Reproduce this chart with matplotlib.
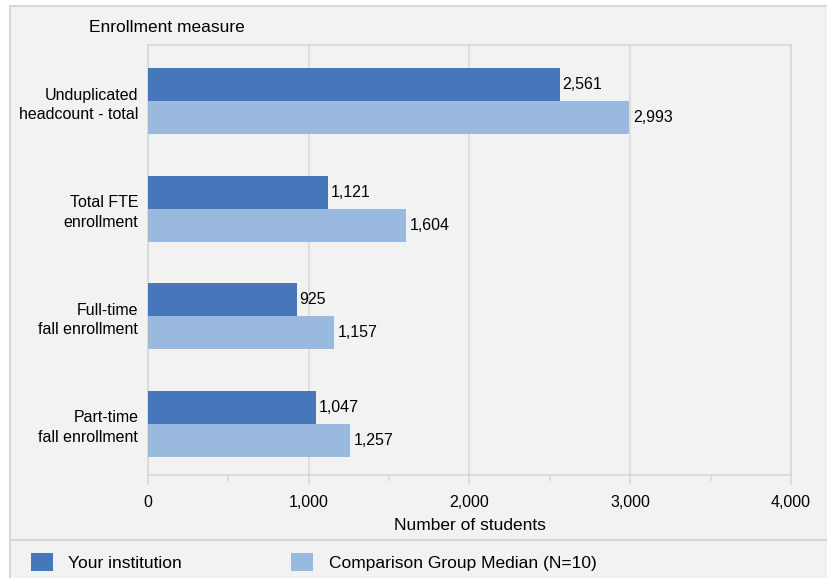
import numpy as np
import matplotlib.pyplot as plt
from matplotlib.patches import Rectangle
from matplotlib.lines import Line2D
from matplotlib.ticker import MultipleLocator, FuncFormatter

plt.rcParams['font.family'] = ['Liberation Sans', 'DejaVu Sans']

# Данни
categories = ['Unduplicated\nheadcount - total', 'Total FTE\nenrollment',
              'Full-time\nfall enrollment', 'Part-time\nfall enrollment']
your_inst = [2561, 1121, 925, 1047]
comparison = [2993, 1604, 1157, 1257]
series_names = ['Your institution', 'Comparison Group Median (N=10)']

dark = '#4677bb'
light = '#99b9de'
panel = '#f2f2f2'
line_c = '#d6d6d6'

W, H = 828, 578
fig = plt.figure(figsize=(W / 100, H / 100), dpi=100, facecolor='white')

# сив фон с рамка
fig.patches.append(Rectangle((10 / W, -0.1), 1.2, 1 - 6 / H + 0.1, transform=fig.transFigure,
                             facecolor=panel, edgecolor=line_c, linewidth=1.5, zorder=-10))
# линия над легендата
fig.add_artist(Line2D([10 / W, 1], [1 - 540 / H, 1 - 540 / H], transform=fig.transFigure,
                      color=line_c, linewidth=1.5))

ax = fig.add_axes([148 / W, 1 - 475 / H, (791 - 148) / W, (475 - 45) / H])
ax.set_facecolor(panel)

y = np.arange(len(categories))
h = 0.307
b1 = ax.barh(y - h / 2, your_inst, height=h, color=dark, label=series_names[0], zorder=3)
b2 = ax.barh(y + h / 2, comparison, height=h, color=light, label=series_names[1], zorder=3)

ax.bar_label(b1, labels=['{:,}'.format(v) for v in your_inst], padding=2, fontsize=11.5)
ax.bar_label(b2, labels=['{:,}'.format(v) for v in comparison], padding=3, fontsize=11.5)

ax.set_xlim(0, 4000)
ax.set_ylim(3.475, -0.525)
ax.set_yticks(y)
ax.set_yticklabels(categories, fontsize=11.5, linespacing=1.35)
ax.tick_params(axis='y', length=0, pad=7)

ax.xaxis.set_major_locator(MultipleLocator(1000))
ax.xaxis.set_minor_locator(MultipleLocator(500))
ax.xaxis.set_major_formatter(FuncFormatter(lambda v, p: '{:,.0f}'.format(v)))
ax.tick_params(axis='x', which='major', length=7.2, width=1.1, color=line_c, labelsize=11.5, pad=7)
ax.tick_params(axis='x', which='minor', length=4.5, width=1.1, color=line_c)
ax.grid(axis='x', which='major', color='#d9d9d9', linewidth=1.1, zorder=0)

for s in ax.spines.values():
    s.set_color(line_c)
    s.set_linewidth(1.1)

ax.set_xlabel('Number of students', fontsize=12.5, labelpad=6)

fig.text(167 / W, 1 - 28 / H, 'Enrollment measure', fontsize=12.5, ha='center', va='center')

fig.legend(handles=[b1, b2], loc='center left', bbox_to_anchor=(31 / W, 1 - 562 / H),
           ncol=2, frameon=False, fontsize=12.5, borderpad=0, borderaxespad=0,
           handlelength=1.25, handleheight=1.2, handletextpad=0.9, columnspacing=6.3)

fig.savefig('out.png', dpi=100, facecolor=fig.get_facecolor())
